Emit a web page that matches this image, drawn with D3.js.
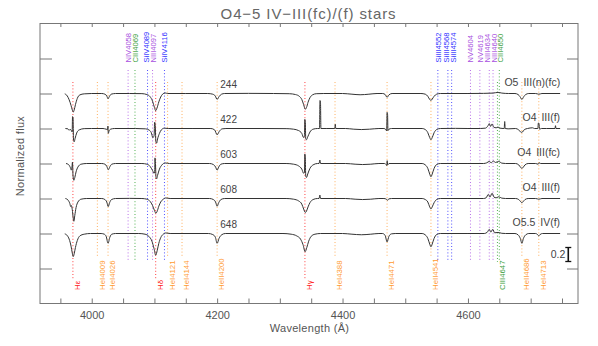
<!DOCTYPE html>
<html><head><meta charset="utf-8">
<script src="https://cdn.jsdelivr.net/npm/d3@7"></script>
<style>
html,body{margin:0;padding:0;background:#fff;}
svg{display:block;font-family:"Liberation Sans",Arial,sans-serif;}
</style></head>
<body>
<svg id="c" width="598" height="346"></svg>
<script>
// ---------- DATA ----------
const title = "O4\u22125 IV\u2212III(fc)/(f) stars";
const xLabel = "Wavelength (\u00C5)";
const yLabel = "Normalized flux";
const xTickLabels = [4000, 4200, 4400, 4600];
const xMinorTicks = [3950,4000,4050,4100,4150,4200,4250,4300,4350,4400,4450,4500,4550,4600,4650,4700,4750];
const yTicks = [0.5, 1.0, 1.5, 2.0, 2.5, 3.0, 3.5];

const starIds = ["244", "422", "603", "608", "648"];
const spTypes = ["O5 III(n)(fc)", "O4 III(f)", "O4 III(fc)", "O4 III(f)", "O5.5 IV(f)"];
const offsets = [2.0, 1.5, 1.0, 0.5, 0.0];

const bottomLineLabels = ["H\u03B5","HeI4009","HeI4026","H\u03B4","HeI4121","HeI4144","HeII4200","H\u03B3","HeI4388","HeI4471","HeII4541","CIII4647","HeII4686","HeI4713"];
const bottomLineWaves  = [3970,4009,4026,4102,4121,4144,4200,4340,4388,4471,4541,4647,4686,4713];
const topLineLabels = ["NIV4058","CIII4069","SiIV4089","NIII4097","SiIV4116","SiIII4552","SiIII4568","SiIII4574","NV4604","NV4619","NIII4634","NIII4640","CIII4650"];
const topLineWaves  = [4058,4069,4089,4097,4116,4552,4568,4574,4604,4619,4634,4640,4650];

const scaleBar = 0.2;

const spec244 = [[3957,0.995],[3961,0.965],[3964,0.91],[3967,0.83],[3969,0.765],[3970.5,0.735],[3972,0.765],[3974,0.84],[3977,0.93],[3981,0.98],[3988,0.995],[4000,1.0],
[4016,1.0],[4021,0.99],[4024,0.965],[4026,0.925],[4028,0.955],[4031,0.99],[4038,1.0],
[4060,1.0],[4080,0.998],[4088,0.985],[4093,0.955],[4097,0.89],[4100,0.8],[4102,0.755],[4104,0.79],[4107,0.88],[4110,0.95],[4113,0.99],[4117,1.008],[4121,1.0],
[4150,1.0],[4185,1.0],[4193,0.99],[4197,0.965],[4200,0.915],[4203,0.955],[4207,0.99],[4212,1.0],
[4250,1.002],[4290,1.0],[4315,0.997],[4325,0.985],[4331,0.96],[4335,0.915],[4338,0.84],[4340.5,0.775],[4342.5,0.8],[4345,0.875],[4348,0.94],[4352,0.98],[4358,0.997],[4370,1.0],
[4400,1.0],[4415,0.99],[4428,0.982],[4442,0.99],[4455,1.0],
[4464,1.0],[4468,0.985],[4471,0.945],[4474,0.98],[4479,1.0],
[4525,1.0],[4532,0.99],[4536,0.96],[4539,0.915],[4541,0.9],[4543,0.92],[4546,0.96],[4550,0.99],[4556,1.0],
[4600,1.0],[4625,1.002],[4640,1.006],[4648,1.016],[4654,1.006],[4665,1.0],
[4675,1.0],[4680,0.985],[4683,0.955],[4686,0.915],[4689,0.955],[4692,0.985],[4697,1.0],
[4708,1.0],[4713,0.99],[4718,1.0],[4747,1.0]];

const spec422 = [[3958,1.0],[3962,0.995],[3964,0.975],[3965.5,0.99],[3967.5,0.97],[3968.8,0.95],[3969.4,1.17],[3970.2,1.15],[3970.9,0.85],[3972,0.81],[3973.5,0.86],[3976,0.935],[3980,0.98],[3988,0.998],[4000,1.0],
[4018,1.0],[4023,0.99],[4025.3,0.985],[4025.8,1.035],[4026.4,0.93],[4027.5,0.96],[4030,0.99],[4036,1.0],
[4070,1.0],[4086,0.995],[4092,0.975],[4095,0.94],[4097.5,0.87],[4099.5,0.9],[4100.3,1.09],[4101.2,1.06],[4102.2,0.82],[4103.5,0.79],[4105,0.85],[4108,0.93],[4111,0.98],[4116,1.005],[4122,1.0],
[4160,1.0],[4190,1.0],[4196,0.98],[4200,0.91],[4203.5,0.96],[4208,0.995],[4214,1.0],
[4270,1.0],[4310,0.998],[4322,0.99],[4330,0.97],[4335,0.93],[4338,0.87],[4339.3,0.9],[4339.8,1.13],[4340.6,1.1],[4341.3,0.85],[4342.5,0.84],[4344.5,0.88],[4348,0.95],[4353,0.99],[4360,1.0],
[4363.3,1.0],[4364,1.40],[4364.8,1.38],[4365.5,1.0],[4375,1.0],
[4387.6,1.0],[4388.4,1.06],[4389.2,1.0],
[4405,1.0],[4418,0.99],[4430,0.985],[4443,0.99],[4458,1.0],
[4466,1.0],[4469,0.985],[4470.4,0.965],[4471,1.23],[4471.8,1.2],[4472.4,0.97],[4474,0.99],[4478,1.0],
[4527,1.0],[4532,0.985],[4536,0.94],[4539,0.87],[4541,0.84],[4543,0.87],[4546,0.94],[4550,0.985],[4556,1.0],
[4580,1.002],[4600,1.0],[4620,1.0],[4628,1.005],[4632,1.04],[4634,1.07],[4636,1.03],[4638.5,1.065],[4641,1.02],[4645,1.01],[4648,1.02],[4651,1.005],[4656,1.0],[4657.8,1.0],[4658.6,1.1],[4659.4,1.0],[4664,0.995],
[4676,1.0],[4681,0.98],[4685,0.945],[4687,0.95],[4690,0.985],[4695,1.0],
[4703,1.01],[4706,1.0],[4711.5,1.0],[4712.3,1.08],[4713.3,1.07],[4714.2,0.99],[4717,1.0],[4725,1.0],
[4738.8,1.0],[4739.6,1.04],[4740.4,1.0],[4747,1.0]];

const spec603 = [[3959,1.0],[3963,0.985],[3966,0.94],[3967.5,0.905],[3968.5,0.95],[3969.3,1.02],[3970.2,0.82],[3971.5,0.76],[3973,0.8],[3975,0.88],[3978,0.95],[3983,0.99],[3992,1.0],
[4016,1.0],[4021,0.99],[4024,0.96],[4026.5,0.91],[4029,0.955],[4032,0.99],[4038,1.0],
[4080,1.0],[4088,0.99],[4093,0.96],[4097,0.9],[4099.5,0.86],[4100.4,0.88],[4100.9,1.08],[4101.6,1.0],[4102.5,0.8],[4103.5,0.78],[4105,0.83],[4108,0.92],[4112,0.98],[4117,1.008],[4124,1.0],
[4188,1.0],[4194,0.985],[4197.5,0.95],[4200,0.905],[4202.5,0.95],[4206,0.99],[4212,1.0],
[4310,1.0],[4322,0.99],[4330,0.965],[4335,0.92],[4338,0.86],[4339.3,0.88],[4339.8,1.135],[4340.6,1.08],[4341.3,0.82],[4342.5,0.8],[4344.5,0.85],[4348,0.93],[4353,0.98],[4360,1.0],
[4362.5,1.0],[4363.8,1.05],[4365,1.0],
[4405,1.0],[4420,0.99],[4432,0.985],[4445,0.99],[4458,1.0],
[4467,1.0],[4469.5,0.985],[4470.5,0.97],[4471.2,1.04],[4472,0.98],[4474,1.0],
[4527,1.0],[4532,0.98],[4536,0.93],[4539,0.85],[4541,0.81],[4543,0.85],[4546,0.93],[4550,0.985],[4556,1.0],
[4600,1.0],[4625,1.0],[4630,1.01],[4634,1.03],[4637,1.01],[4640.5,1.035],[4644,1.015],[4649,1.03],[4654,1.005],[4660,1.0],
[4676,1.0],[4681,0.98],[4684,0.945],[4686,0.93],[4688,0.945],[4691,0.98],[4696,1.0],
[4708,1.0],[4712,0.99],[4713.3,1.01],[4716,1.0],[4747,1.0]];

const spec608 = [[3958,1.0],[3962,0.98],[3965,0.93],[3966.5,0.885],[3967.5,0.9],[3969,0.84],[3970.5,0.72],[3971.5,0.675],[3973,0.76],[3975,0.87],[3978,0.95],[3983,0.99],[3992,1.0],
[4016,1.0],[4021,0.985],[4024,0.95],[4026.3,0.885],[4028.5,0.94],[4031.5,0.985],[4038,1.0],
[4060,1.002],[4080,1.0],[4088,0.99],[4093,0.96],[4097,0.9],[4100,0.83],[4102.3,0.79],[4104,0.81],[4107,0.89],[4110,0.95],[4114,0.99],[4118,1.008],[4125,1.0],
[4188,1.0],[4194,0.985],[4197.5,0.95],[4200,0.89],[4202.5,0.94],[4206,0.985],[4212,1.0],
[4310,1.0],[4322,0.99],[4330,0.965],[4335,0.92],[4338,0.85],[4340.5,0.8],[4342.5,0.82],[4345,0.88],[4348,0.94],[4353,0.985],[4360,1.0],
[4362.5,1.0],[4363.8,1.05],[4365,1.0],
[4405,1.0],[4420,0.99],[4432,0.985],[4445,0.99],[4458,1.0],
[4466,1.0],[4470,0.99],[4471.5,0.975],[4474,0.995],[4478,1.0],
[4527,1.0],[4532,0.985],[4536,0.95],[4539,0.88],[4541,0.85],[4543,0.88],[4546,0.94],[4550,0.985],[4556,1.0],
[4600,1.0],[4625,1.0],[4629,1.01],[4632.5,1.06],[4635,1.02],[4638.5,1.075],[4641.5,1.02],[4645,1.01],[4649,1.025],[4654,1.005],[4660,1.0],
[4676,1.0],[4681,0.985],[4684,0.955],[4686,0.94],[4688,0.955],[4691,0.985],[4696,1.0],
[4708,1.0],[4713,0.99],[4718,1.0],[4747,1.0]];

const spec648 = [[3957,0.995],[3961,0.97],[3964,0.92],[3967,0.82],[3969,0.72],[3970.5,0.67],[3972,0.71],[3974,0.8],[3977,0.9],[3981,0.965],[3988,0.99],[3998,1.0],
[4015,1.0],[4020,0.99],[4023,0.96],[4026,0.86],[4029,0.95],[4032,0.99],[4038,1.0],
[4075,1.0],[4085,0.99],[4091,0.96],[4096,0.89],[4099.5,0.78],[4102,0.69],[4104.5,0.76],[4107,0.86],[4110,0.94],[4114,0.99],[4118,1.008],[4125,1.0],
[4186,1.0],[4193,0.985],[4197,0.95],[4200,0.86],[4203,0.93],[4207,0.98],[4213,1.0],
[4305,1.0],[4318,0.99],[4327,0.965],[4333,0.92],[4337,0.84],[4340.3,0.74],[4343,0.8],[4346,0.89],[4350,0.96],[4356,0.99],[4365,1.0],
[4400,1.0],[4415,0.99],[4430,0.982],[4445,0.99],[4458,1.0],
[4464,1.0],[4468,0.97],[4471,0.88],[4474,0.96],[4478,0.995],[4484,1.0],
[4527,1.0],[4532,0.98],[4536,0.93],[4539,0.85],[4541,0.81],[4543,0.85],[4546,0.93],[4550,0.985],[4556,1.0],
[4600,1.0],[4626,1.0],[4631,1.02],[4634,1.06],[4636.5,1.02],[4639.5,1.06],[4642.5,1.01],[4648,1.015],[4654,1.003],[4660,1.0],
[4675,1.0],[4680,0.98],[4683.5,0.93],[4686,0.86],[4688.5,0.93],[4692,0.98],[4697,1.0],
[4708,1.0],[4711,0.985],[4713,0.965],[4715,0.985],[4719,1.0],[4747,1.0]];

const spectra = [spec244, spec422, spec603, spec608, spec648];

// ---------- DRAW ----------
const svg = d3.select("#c");
const L = 40, R = 578, T = 23.5, B = 303.5;
const x = d3.scaleLinear().domain([3917.5, 4775.5]).range([L, R]);
const y = d3.scaleLinear().domain([0, 4]).range([B, T]);

const textCol = "#555";
const axisCol = "#777";

function elemColor(name) {
  if (/^He/.test(name)) return {line: "#ffb060", text: "#ff9a30"};
  if (/^H/.test(name))  return {line: "#ff4040", text: "#ff2020"};
  if (/^Si/.test(name)) return {line: "#5050ff", text: "#3030ff"};
  if (/^N/.test(name))  return {line: "#b870e8", text: "#a850e0"};
  if (/^C/.test(name))  return {line: "#50b050", text: "#40a040"};
  return {line: "#888", text: "#888"};
}

// spread label positions so neighbours keep a minimum gap
function spread(xs, gap) {
  const p = xs.slice();
  for (let it = 0; it < 60; it++) {
    let moved = false;
    for (let i = 1; i < p.length; i++) {
      const d = p[i] - p[i - 1];
      if (d < gap) { const s = (gap - d) / 2; p[i - 1] -= s; p[i] += s; moved = true; }
    }
    if (!moved) break;
  }
  return p;
}

// Title
svg.append("text").attr("x", 308.5).attr("y", 18.5).attr("text-anchor", "middle")
  .attr("font-size", 15).attr("fill", "#666").attr("letter-spacing", 0.9).text(title);

// Vertical marker lines
const gl = svg.append("g");
bottomLineLabels.forEach((name, i) => {
  const w = bottomLineWaves[i];
  const c = elemColor(name);
  const isH = /^H[^e]/.test(name);
  const isC = /^C/.test(name);
  const y1 = 82, y2 = isH ? 280 : (isC ? 262 : 258);
  gl.append("line").attr("x1", x(w)).attr("x2", x(w)).attr("y1", y1).attr("y2", y2)
    .attr("stroke", c.line).attr("stroke-width", 1).attr("stroke-dasharray", "1,2.2");
  gl.append("text").attr("transform", `translate(${x(w) + 4.5},290) rotate(-90)`)
    .attr("dy", "0.35em").attr("font-size", 7.8).attr("fill", c.text).text(name);
});
const topX = spread(topLineWaves.map(w => x(w)), 6.7);
topLineLabels.forEach((name, i) => {
  const w = topLineWaves[i];
  const c = elemColor(name);
  gl.append("line").attr("x1", x(w)).attr("x2", x(w)).attr("y1", 70).attr("y2", 262)
    .attr("stroke", c.line).attr("stroke-width", 1).attr("stroke-dasharray", "1,2.2");
  gl.append("text").attr("transform", `translate(${topX[i]},62.5) rotate(-90)`)
    .attr("dy", "0.35em").attr("font-size", 7.6).attr("fill", c.text).text(name);
});

// Spectra
const line = d3.line().x(d => x(d[0])).curve(d3.curveMonotoneX);
spectra.forEach((sp, i) => {
  const off = offsets[i];
  svg.append("path").datum(sp)
    .attr("d", line.y(d => y(d[1] + off)))
    .attr("fill", "none").attr("stroke", "#333").attr("stroke-width", 1);
  svg.append("text").attr("x", x(4205)).attr("y", y(1 + off) - 6)
    .attr("font-size", 10).attr("fill", "#444").text(starIds[i]);
  svg.append("text").attr("x", x(4747)).attr("y", y(1 + off) - 8).attr("text-anchor", "end")
    .attr("font-size", 10.5).attr("fill", "#444").attr("word-spacing", 2).text(spTypes[i]);
});

// Scale bar
const sbX = x(4760), sbY0 = y(0.6), sbY1 = y(0.6 + scaleBar);
svg.append("line").attr("x1", sbX).attr("x2", sbX).attr("y1", sbY0).attr("y2", sbY1).attr("stroke", "#111").attr("stroke-width", 1.6);
svg.append("line").attr("x1", sbX - 3).attr("x2", sbX + 3).attr("y1", sbY0).attr("y2", sbY0).attr("stroke", "#111").attr("stroke-width", 1.3);
svg.append("line").attr("x1", sbX - 3).attr("x2", sbX + 3).attr("y1", sbY1).attr("y2", sbY1).attr("stroke", "#111").attr("stroke-width", 1.3);
svg.append("text").attr("x", sbX - 3).attr("y", (sbY0 + sbY1) / 2 + 3.7).attr("text-anchor", "end")
  .attr("font-size", 10.5).attr("fill", "#444").text(scaleBar.toFixed(1));

// Axes
function styleAxis(g) {
  g.select(".domain").remove();
  g.selectAll(".tick line").attr("stroke", axisCol);
  g.selectAll(".tick text").attr("fill", textCol).attr("font-size", 11)
    .attr("font-family", "Liberation Sans, Arial, sans-serif");
}
svg.append("g").attr("transform", `translate(0,${B})`)
  .call(d3.axisBottom(x).tickValues(xMinorTicks).tickSize(-5).tickPadding(8)
    .tickFormat(d => xTickLabels.includes(d) ? d3.format("d")(d) : ""))
  .call(styleAxis);
svg.append("g").attr("transform", `translate(0,${T})`)
  .call(d3.axisTop(x).tickValues(xMinorTicks).tickSize(-3.5).tickFormat(""))
  .call(styleAxis);
svg.append("g").attr("transform", `translate(${L},0)`)
  .call(d3.axisLeft(y).tickValues(yTicks).tickSize(-12).tickFormat(""))
  .call(styleAxis);
svg.append("g").attr("transform", `translate(${R},0)`)
  .call(d3.axisRight(y).tickValues(yTicks).tickSize(-11).tickFormat(""))
  .call(styleAxis);

svg.append("rect").attr("x", L).attr("y", T).attr("width", R - L).attr("height", B - T)
  .attr("fill", "none").attr("stroke", axisCol).attr("stroke-width", 1);

// Axis labels
svg.append("text").attr("x", 309.5).attr("y", 332).attr("text-anchor", "middle")
  .attr("font-size", 11).attr("fill", textCol).attr("letter-spacing", 0.3).text(xLabel);
svg.append("text").attr("transform", "translate(24,156) rotate(-90)").attr("text-anchor", "middle")
  .attr("font-size", 11).attr("fill", textCol).attr("letter-spacing", 0.3).text(yLabel);
</script>
</body></html>
